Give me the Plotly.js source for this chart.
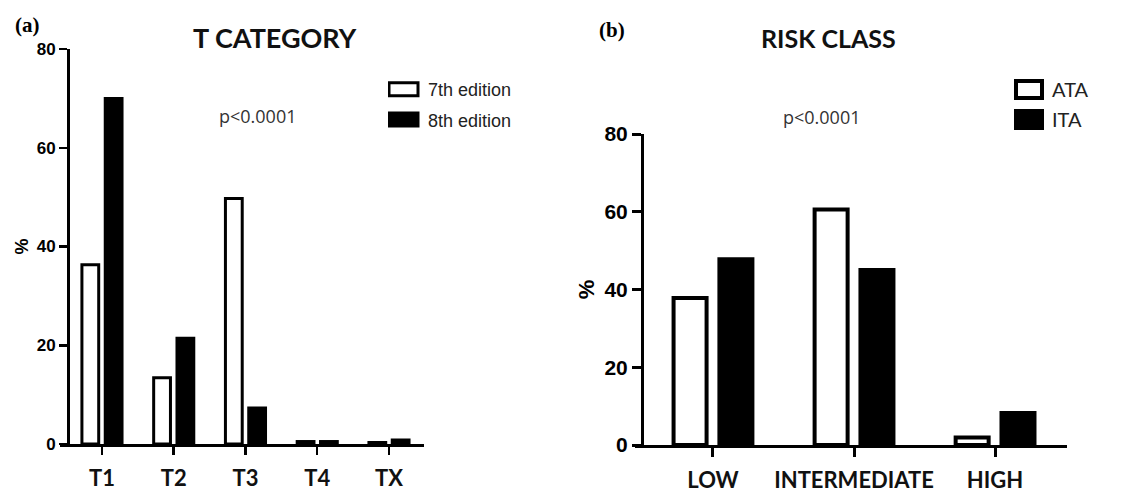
<!DOCTYPE html>
<html>
<head>
<meta charset="utf-8">
<script src="https://cdn.plot.ly/plotly-3.0.1.min.js"></script>
<style>html,body{margin:0;padding:0;background:#fff;}#chart{width:1148px;height:493px;}</style>
</head>
<body>
<div id="chart"></div>
<script>
// ---- data ----
const tCategories = ['T1', 'T2', 'T3', 'T4', 'TX'];
const tEdition7 = [36.3, 13.4, 49.7, 0.5, 0.3];
const tEdition8 = [70.0, 21.4, 7.3, 0.5, 0.8];
const tSeriesNames = ['7th edition', '8th edition'];

const riskCategories = ['LOW', 'INTERMEDIATE', 'HIGH'];
const riskATA = [37.8, 60.6, 1.9];
const riskITA = [47.8, 45.0, 8.2];
const riskSeriesNames = ['ATA', 'ITA'];

const yTicks = [0, 20, 40, 60, 80];
const pText = 'p<0.0001';

// ---- helpers (pixel -> paper) ----
const W = 1148, H = 493;
const px = v => v / W;
const py = v => 1 - v / H;

const traces = [
  {type:'bar', name:tSeriesNames[0], x:tCategories, y:tEdition7, xaxis:'x', yaxis:'y', legend:'legend', legendgroup:'a1',
   marker:{color:'#ffffff', line:{color:'#000', width:3}}},
  {type:'bar', name:tSeriesNames[1], x:tCategories, y:tEdition8, xaxis:'x', yaxis:'y', legend:'legend', legendgroup:'a2',
   marker:{color:'#000000', line:{color:'#000', width:3}}},
  {type:'bar', name:riskSeriesNames[0], x:riskCategories, y:riskATA, xaxis:'x2', yaxis:'y2', legend:'legend2', legendgroup:'b1',
   marker:{color:'#ffffff', line:{color:'#000', width:4}}},
  {type:'bar', name:riskSeriesNames[1], x:riskCategories, y:riskITA, xaxis:'x2', yaxis:'y2', legend:'legend2', legendgroup:'b2',
   marker:{color:'#000000', line:{color:'#000', width:4}}}
];

const xCommon = {type:'category', showline:true, linecolor:'#000', showgrid:false, zeroline:false,
  ticks:'outside', tickcolor:'#000', fixedrange:true};
const yCommon = {showline:true, linecolor:'#000', showgrid:false, zeroline:false, ticks:'outside', tickcolor:'#000',
  tickvals:yTicks, range:[0,80], anchor:'free', fixedrange:true};

const ann = (text, x, y, font) => ({text, xref:'paper', yref:'paper', x:px(x), y:py(y),
  xanchor:'center', yanchor:'middle', showarrow:false, font});

const layout = {
  width:W, height:H, margin:{l:0,r:0,t:0,b:0}, paper_bgcolor:'#fff', plot_bgcolor:'rgba(0,0,0,0)',
  barmode:'group', bargap:0.35, bargroupgap:0.28,
  font:{family:'Liberation Sans, Arial, sans-serif', color:'#000'},
  xaxis: Object.assign({}, xCommon, {domain:[px(60), px(424)], range:[-0.585, 4.488], anchor:'y',
    linewidth:2.5, tickwidth:2.5, ticklen:8, ticklabelstandoff:5,
    tickfont:{family:'Lato, sans-serif', size:22, weight:700, color:'#111'}}),
  yaxis: Object.assign({}, yCommon, {domain:[py(444), py(49)], position:px(68),
    linewidth:2.5, tickwidth:2.5, ticklen:8,
    tickfont:{family:'Liberation Sans, Arial, sans-serif', size:17, weight:700},
    title:{text:'%', standoff:2, font:{family:'Liberation Sans, Arial, sans-serif', size:18, weight:700}}}),
  xaxis2: Object.assign({}, xCommon, {domain:[px(635), px(1067)], range:[-0.553, 2.51], anchor:'y2',
    linewidth:3, tickwidth:3, ticklen:9, ticklabelstandoff:5,
    tickfont:{family:'Lato, sans-serif', size:22, weight:700, color:'#111'}}),
  yaxis2: Object.assign({}, yCommon, {domain:[py(445), py(134)], position:px(642),
    linewidth:3, tickwidth:3, ticklen:9,
    tickfont:{family:'Liberation Sans, Arial, sans-serif', size:21, weight:700},
    title:{text:'%', standoff:2, font:{family:'Liberation Sans, Arial, sans-serif', size:22, weight:700}}}),
  legend: {x:px(388), xanchor:'left', y:py(71), yanchor:'top', bgcolor:'rgba(0,0,0,0)', borderwidth:0,
    traceorder:'grouped', tracegroupgap:4,
    font:{family:'Liberation Sans, Arial, sans-serif', size:18, color:'#222'}},
  legend2: {x:px(1012), xanchor:'left', y:py(70), yanchor:'top', bgcolor:'rgba(0,0,0,0)', borderwidth:0,
    traceorder:'grouped', tracegroupgap:1,
    font:{family:'Lato, sans-serif', size:20, color:'#222'}},
  annotations: [
    ann('<b>(a)</b>', 27, 25, {family:'Liberation Serif, Times New Roman, serif', size:21, color:'#000'}),
    ann('<b>(b)</b>', 612, 30, {family:'Liberation Serif, Times New Roman, serif', size:21, color:'#000'}),
    ann('<b>T CATEGORY</b>', 275, 37, {family:'Lato, sans-serif', size:27, color:'#111'}),
    ann('<b>RISK CLASS</b>', 828, 38, {family:'Lato, sans-serif', size:25, color:'#111'}),
    ann(pText, 258, 116, {family:'Open Sans, sans-serif', size:18, color:'#333'}),
    ann(pText, 822, 117, {family:'Open Sans, sans-serif', size:18, color:'#333'})
  ],
  showlegend:true
};

function reshapeLegendSymbols(gd){
  const groups = gd.querySelectorAll('g.legend, g.legend2');
  groups.forEach(lg => {
    const isB = lg.classList.contains('legend2');
    const d = isB ? 'M10,8.5H-16V-8.5H10Z' : 'M10,6.5H-19V-6.5H10Z';
    lg.querySelectorAll('.legendpoints path').forEach(p => p.setAttribute('d', d));
  });
}

Plotly.newPlot('chart', traces, layout, {displayModeBar:false, staticPlot:true}).then(gd => {
  reshapeLegendSymbols(gd);
  gd.on('plotly_afterplot', () => reshapeLegendSymbols(gd));
});
</script>
</body>
</html>
